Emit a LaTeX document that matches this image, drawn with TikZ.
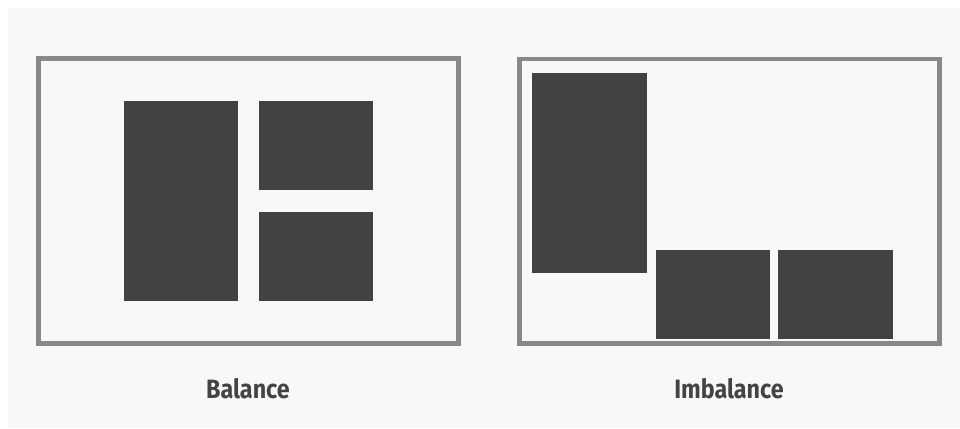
\documentclass[tikz,border=0pt]{standalone}
\usepackage{fontspec}
\setmainfont{Fira Sans}
\begin{document}
\begin{tikzpicture}[x=1pt, y=-1pt]
    % Define colours
    \definecolor{paperColour}{HTML}{F8F8F8}
    \definecolor{frameColour}{HTML}{888888}
    \definecolor{blockColour}{HTML}{424242}
    \definecolor{labelColour}{HTML}{444444}

    % Define styles
    \tikzset{
        frame/.style={draw=frameColour, line width=4.5pt},
        block/.style={fill=blockColour},
        caption/.style={text=labelColour, font=\fontsize{26.5}{30}\selectfont\bfseries}
    }

    % Background
    \useasboundingbox (0,0) rectangle (960,428);
    \fill[white] (0,0) rectangle (960,428);
    \fill[paperColour] (8,8) rectangle (960,428);

    % Balance frame
    \draw[frame] (38.5,58.5) rectangle (458.5,343.5);
    \fill[block] (124,101) rectangle (238,301);
    \fill[block] (259,101) rectangle (373,190);
    \fill[block] (259,212) rectangle (373,301);
    \node[caption] (balance) at (248,389) {\scalebox{0.88}[1]{Balance}};

    % Imbalance frame
    \draw[frame] (519.5,59) rectangle (939.5,343.5);
    \fill[block] (532,73) rectangle (647,273);
    \fill[block] (656,250) rectangle (770,339);
    \fill[block] (778,250) rectangle (893,339);
    \node[caption] (imbalance) at (729,389) {\scalebox{0.88}[1]{Imbalance}};

\end{tikzpicture}
\end{document}
